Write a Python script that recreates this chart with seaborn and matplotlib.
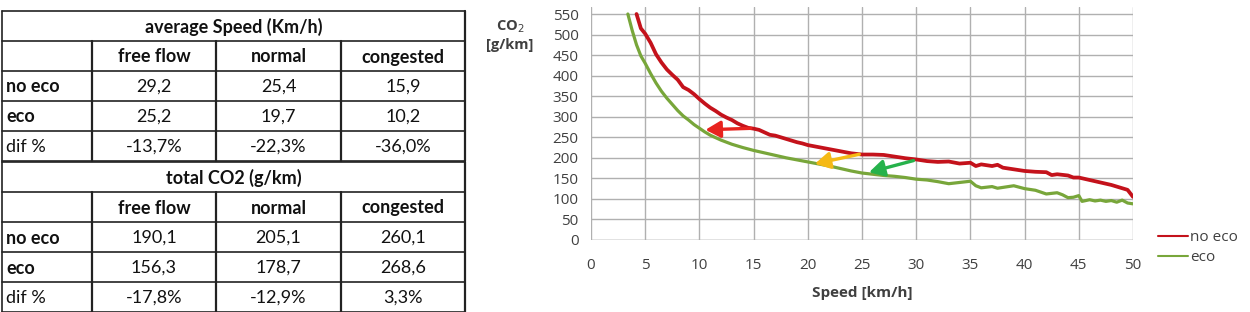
import matplotlib
matplotlib.use('Agg')
import matplotlib.pyplot as plt
import pandas as pd
import seaborn as sns

# --- table values ---
TABLE_COLS = ['free flow', 'normal', 'congested']
TABLE_ROWS = ['no eco', 'eco', 'dif %']
SPEED_TITLE = 'average Speed (Km/h)'
SPEED_VALUES = [['29,2', '25,4', '15,9'],
                ['25,2', '19,7', '10,2'],
                ['-13,7%', '-22,3%', '-36,0%']]
CO2_TITLE = 'total CO2 (g/km)'
CO2_VALUES = [['190,1', '205,1', '260,1'],
              ['156,3', '178,7', '268,6'],
              ['-17,8%', '-12,9%', '3,3%']]

# --- curve values (speed km/h, CO2 g/km) ---
NOECO_SPEED = [4.2, 4.6, 5, 5.5, 6, 6.5, 7, 7.5, 8, 8.5, 9, 9.5, 10, 10.5, 11, 11.5, 12, 12.5, 13,
               13.5, 14, 14.5, 15, 15.5, 16, 16.5, 17, 17.5, 18, 18.5, 19, 19.5, 20, 21, 22, 23, 24,
               25, 26, 27, 28, 29, 30, 31, 32, 33, 34, 35, 35.5, 36, 37, 37.5, 38, 39, 40, 41, 42,
               42.5, 43, 44, 44.5, 45, 46, 47, 48, 49, 49.5, 50]
NOECO_CO2 = [550, 515, 502, 480, 452, 432, 415, 402, 390, 372, 365, 355, 343, 332, 322, 314, 305, 298,
             292, 284, 278, 273, 271, 268, 262, 256, 254, 250, 246, 242, 238, 235, 231, 226, 221, 216,
             211, 208, 208, 207, 203, 199, 196, 192, 190, 191, 186, 188, 180, 184, 180, 183, 176, 172,
             168, 166, 165, 158, 160, 157, 152, 152, 146, 140, 134, 126, 122, 105]
ECO_SPEED = [3.4, 3.8, 4.2, 4.6, 5, 5.5, 6, 6.5, 7, 7.5, 8, 8.5, 9, 9.5, 10, 10.5, 11, 12, 13, 14, 15,
             16, 17, 18, 19, 20, 21, 22, 23, 24, 25, 26, 27, 28, 29, 30, 31, 32, 33, 34, 35, 35.5, 36,
             37, 37.5, 38, 39, 40, 41, 42, 43, 43.5, 44, 44.5, 45, 45.3, 46, 46.5, 47, 47.5, 48, 48.5,
             49, 49.5, 50]
ECO_CO2 = [550, 510, 475, 448, 430, 405, 382, 362, 345, 330, 315, 302, 292, 281, 272, 263, 255, 243,
           233, 225, 218, 212, 206, 200, 195, 190, 185, 180, 174, 168, 163, 160, 157, 155, 152, 148,
           146, 142, 137, 140, 143, 132, 127, 130, 126, 128, 132, 125, 121, 112, 115, 110, 103, 104,
           108, 94, 98, 95, 97, 94, 96, 92, 97, 90, 88]

# arrows: (x_start, y_start, x_end, y_end)
ARROW_START_X = [15, 25, 30]
ARROW_START_Y = [272, 210, 195]
ARROW_END_X = [10.3, 20.4, 25.4]
ARROW_END_Y = [268, 184, 163]
ARROW_COLORS = ['#e8231f', '#f5b915', '#26b24b']

RED = '#c4121b'
GREEN = '#78a63a'
TXT = '#404040'
GRID = '#b0b0b0'

sns.set_style('white')
plt.rcParams['font.family'] = ['Open Sans', 'DejaVu Sans']

fig = plt.figure(figsize=(12.5, 3.12), dpi=100)

# ---------------- table (pixel coordinates) ----------------
tab = fig.add_axes([0, 0, 1, 1])
tab.set_xlim(0, 1250)
tab.set_ylim(312, 0)
tab.axis('off')

col_x = [2, 92, 216, 341, 465]
blocks = [(11, SPEED_TITLE, SPEED_VALUES), (162, CO2_TITLE, CO2_VALUES)]
row_h = 30
fs = 13
tfont = ['Lato', 'DejaVu Sans']
for top, title, values in blocks:
    ys = [top + i * row_h for i in range(6)]
    for y in ys:
        tab.plot([col_x[0], col_x[-1]], [y, y], color='#222222', lw=1.2)
    tab.plot([col_x[0], col_x[0]], [ys[0], ys[-1]], color='#222222', lw=1.2)
    tab.plot([col_x[-1], col_x[-1]], [ys[0], ys[-1]], color='#222222', lw=1.6)
    for cx in col_x[1:-1]:
        tab.plot([cx, cx], [ys[1], ys[-1]], color='#222222', lw=1.6)
    tab.text((col_x[0] + col_x[-1]) / 2, (ys[0] + ys[1]) / 2 + 1, title, ha='center', va='center',
             fontsize=fs, fontweight='bold', color='#111111', family=tfont)
    for j, c in enumerate(TABLE_COLS):
        tab.text((col_x[j + 1] + col_x[j + 2]) / 2, (ys[1] + ys[2]) / 2 + 1, c, ha='center',
                 va='center', fontsize=fs, fontweight='bold', color='#111111', family=tfont)
    for i, r in enumerate(TABLE_ROWS):
        yc = (ys[i + 2] + ys[i + 3]) / 2 + 1
        tab.text(col_x[0] + 4, yc, r, ha='left', va='center', fontsize=fs,
                 fontweight='bold' if r != 'dif %' else 'normal', color='#111111', family=tfont)
        for j in range(3):
            tab.text((col_x[j + 1] + col_x[j + 2]) / 2, yc, values[i][j], ha='center',
                     va='center', fontsize=fs, color='#111111', family=tfont)

# ---------------- chart ----------------
ax = fig.add_axes([0.4728, 0.2308, 0.4336, 0.748])
df = pd.concat([
    pd.DataFrame({'Speed': NOECO_SPEED, 'CO2': NOECO_CO2, 'Series': 'no eco'}),
    pd.DataFrame({'Speed': ECO_SPEED, 'CO2': ECO_CO2, 'Series': 'eco'}),
])
sns.lineplot(data=df, x='Speed', y='CO2', hue='Series', palette={'no eco': RED, 'eco': GREEN},
             sort=False, estimator=None, ax=ax)
ax.lines[0].set_linewidth(2.7)
ax.lines[1].set_linewidth(2.3)

for xs, ys_, xe, ye, c in zip(ARROW_START_X, ARROW_START_Y, ARROW_END_X, ARROW_END_Y, ARROW_COLORS):
    ax.annotate('', xy=(xe, ye), xytext=(xs, ys_),
                arrowprops=dict(arrowstyle='-|>,head_length=0.9,head_width=0.5', color=c, lw=2.4))

ax.set_xlim(0, 50)
ax.set_ylim(0, 568)
ax.set_xticks(range(0, 51, 5))
ax.set_xticks(range(0, 51), minor=True)
ax.set_yticks(range(0, 551, 50))
ax.grid(True, which='major', color=GRID, lw=1)
ax.tick_params(which='major', direction='out', length=5, color=GRID, labelsize=11,
               labelcolor=TXT, pad=4)
ax.tick_params(axis='x', which='minor', direction='in', length=3, color=GRID)
ax.tick_params(axis='x', which='major', pad=8)
for s in ax.spines.values():
    s.set_visible(False)
ax.axhline(0, color=GRID, lw=1)

ax.set_xlabel('Speed [km/h]', fontsize=11, fontweight='bold', color=TXT, labelpad=9)
ax.set_ylabel('')
fig.text(0.408, 0.888, 'CO$_2$\n[g/km]', ha='center', va='center', fontsize=10.5,
         fontweight='bold', color=TXT, linespacing=1.3)

leg = ax.legend(loc='upper left', bbox_to_anchor=(1.02, 0.1), frameon=False, fontsize=11,
                handlelength=2.0, handletextpad=0.1, labelspacing=0.3)
for t in leg.get_texts():
    t.set_color(TXT)

fig.savefig('out.png', dpi=100)
